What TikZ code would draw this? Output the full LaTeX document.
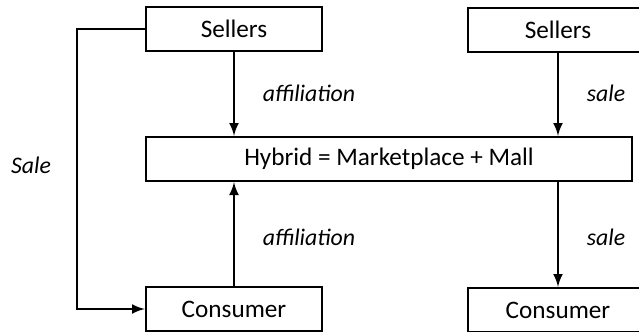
\documentclass[tikz,border=0pt]{standalone}
\usepackage{fontspec}
\setmainfont{Carlito}
\usetikzlibrary{arrows}

\tikzset{
    party/.style={draw, line width=1.2pt, inner sep=0pt, minimum height=22pt, font=\fontsize{12.6}{14}\selectfont},
    flow/.style={font=\fontsize{11.9}{13}\selectfont\itshape}
}

\begin{document}
\begin{tikzpicture}[x=0.5pt,y=-0.5pt]
        \useasboundingbox (0,0) rectangle (639,332);

        \node[party, minimum width=88pt] (sellA) at (234,29) {Sellers};
        \node[party, minimum width=88pt] (consA) at (234,309) {Consumer};
        \node[party, minimum width=243pt] (hybrid) at (389,159) {Hybrid = Marketplace + Mall};

        \node[party, minimum width=90pt] (sellB) at (558,30) {Sellers};
        \node[party, minimum width=90pt] (consB) at (558,310) {Consumer};

        \draw[line width=1.2pt,-latex] (sellA) to (sellA |- hybrid.north);
        \draw[line width=1.2pt,-latex] (consA) to (consA |- hybrid.south);
        \draw[line width=1.2pt,-latex] (sellB) to (sellB |- hybrid.north);
        \draw[line width=1.2pt,-latex] (sellB |- hybrid.south) to (consB);

        \draw[line width=1.2pt,-latex] (sellA.west) -| (77,170) |- (consA.west);

        \node[flow] (affUp) at (309,93) {affiliation};
        \node[flow] (affDown) at (309,237) {affiliation};
        \node[flow] (saleUp) at (606,93) {sale};
        \node[flow] (saleDown) at (606,237) {sale};
        \node[flow] (saleLoop) at (31,165) {Sale};
    \end{tikzpicture}
\end{document}
